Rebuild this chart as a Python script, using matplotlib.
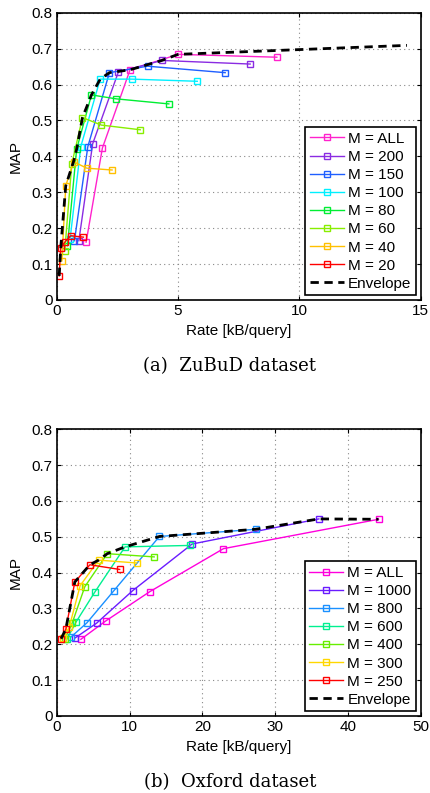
import matplotlib
matplotlib.use('Agg')
import matplotlib.pyplot as plt

# ZuBuD dataset
zubud_labels = ['M = ALL', 'M = 200', 'M = 150', 'M = 100', 'M = 80', 'M = 60', 'M = 40', 'M = 20']
zubud_colors = ['#ff22cc', '#8a2be2', '#1f5fff', '#00f0ff', '#00ee33', '#88ee00', '#ffc000', '#ff0000']
zubud_x = [
    [1.21, 1.88, 3.02, 5.00, 9.07],
    [0.91, 1.48, 2.54, 4.33, 7.97],
    [0.73, 1.28, 2.17, 3.74, 6.94],
    [0.55, 0.99, 1.79, 3.09, 5.79],
    [0.44, 0.82, 1.43, 2.46, 4.62],
    [0.33, 0.62, 1.06, 1.84, 3.44],
    [0.21, 0.37, 0.69, 1.24, 2.28],
    [0.10, 0.16, 0.33, 0.58, 1.10],
]
zubud_y = [
    [0.161, 0.423, 0.641, 0.684, 0.676],
    [0.165, 0.435, 0.635, 0.667, 0.657],
    [0.165, 0.427, 0.633, 0.651, 0.633],
    [0.170, 0.427, 0.615, 0.615, 0.609],
    [0.151, 0.420, 0.571, 0.560, 0.546],
    [0.137, 0.379, 0.508, 0.487, 0.474],
    [0.109, 0.318, 0.385, 0.367, 0.362],
    [0.067, 0.144, 0.161, 0.179, 0.175],
]
zubud_env_x = [0.10, 0.17, 0.37, 0.69, 0.82, 1.06, 1.43, 1.79, 2.17, 3.02, 4.33, 5.00, 14.43]
zubud_env_y = [0.067, 0.150, 0.318, 0.385, 0.420, 0.508, 0.571, 0.615, 0.633, 0.641, 0.667, 0.684, 0.709]

# Oxford dataset
oxford_labels = ['M = ALL', 'M = 1000', 'M = 800', 'M = 600', 'M = 400', 'M = 300', 'M = 250']
oxford_colors = ['#ff00dd', '#6a1bff', '#1a90ff', '#00f090', '#66ee00', '#ffd700', '#ff0000']
oxford_x = [
    [3.31, 6.71, 12.78, 22.9, 44.2],
    [2.53, 5.47, 10.44, 18.6, 36.0],
    [1.93, 4.14, 7.86, 14.1, 27.3],
    [1.38, 2.67, 5.20, 9.38, 18.3],
    [1.10, 2.11, 3.86, 6.94, 13.38],
    [0.92, 1.70, 3.22, 5.75, 10.99],
    [0.60, 1.24, 2.48, 4.55, 8.64],
]
oxford_y = [
    [0.214, 0.265, 0.347, 0.467, 0.549],
    [0.218, 0.259, 0.350, 0.480, 0.550],
    [0.220, 0.260, 0.350, 0.501, 0.521],
    [0.214, 0.263, 0.345, 0.472, 0.476],
    [0.214, 0.259, 0.361, 0.453, 0.444],
    [0.219, 0.247, 0.364, 0.435, 0.427],
    [0.216, 0.242, 0.374, 0.422, 0.409],
]
oxford_env_x = [0.60, 1.24, 2.48, 4.55, 5.75, 6.94, 9.38, 14.1, 27.3, 36.0, 44.2]
oxford_env_y = [0.216, 0.242, 0.374, 0.422, 0.435, 0.453, 0.472, 0.501, 0.521, 0.550, 0.549]

plt.rcParams['font.family'] = ['Liberation Sans', 'DejaVu Sans']
plt.rcParams['font.size'] = 11

fig = plt.figure(figsize=(4.3, 7.93), dpi=100)


def draw_panel(ax, xs, ys, labels, colors, env_x, env_y, xmax, xticks):
    for x, y, lab, c in zip(xs, ys, labels, colors):
        ax.plot(x, y, '-s', color=c, lw=1.0, ms=5, mfc='none', mew=1.0, label=lab)
    ax.plot(env_x, env_y, '--', color='black', lw=2.0, dashes=(3, 2), label='Envelope')
    ax.set_xlim(0, xmax)
    ax.set_ylim(0, 0.8)
    ax.set_xticks(xticks)
    ax.set_yticks([0, 0.1, 0.2, 0.3, 0.4, 0.5, 0.6, 0.7, 0.8])
    ax.set_yticklabels(['0', '0.1', '0.2', '0.3', '0.4', '0.5', '0.6', '0.7', '0.8'])
    ax.grid(True, linestyle=(0, (1, 3)), color='#888888', lw=0.8)
    ax.tick_params(direction='in', top=True, right=True, length=3, pad=3, labelsize=11)
    for s in ax.spines.values():
        s.set_linewidth(1.2)
    ax.set_xlabel('Rate [kB/query]', fontsize=11, labelpad=4)
    ax.set_ylabel('MAP', fontsize=11, labelpad=6)
    leg = ax.legend(loc='lower right', fontsize=11, handlelength=2.2, labelspacing=0.27,
                    borderaxespad=0.3, borderpad=0.3, handletextpad=0.3,
                    fancybox=False, framealpha=1, edgecolor='black', markerscale=0.8)
    leg.get_frame().set_linewidth(1.2)


ax1 = fig.add_axes([0.132, 0.6217, 0.8465, 0.3623])
draw_panel(ax1, zubud_x, zubud_y, zubud_labels, zubud_colors, zubud_env_x, zubud_env_y,
           15, [0, 5, 10, 15])
fig.text(230 / 430, 1 - 366 / 793, '(a)  ZuBuD dataset', ha='center', va='center',
         fontsize=13, family='DejaVu Serif')

ax2 = fig.add_axes([0.132, 0.0971, 0.8465, 0.3615])
draw_panel(ax2, oxford_x, oxford_y, oxford_labels, oxford_colors, oxford_env_x, oxford_env_y,
           50, [0, 10, 20, 30, 40, 50])
fig.text(230 / 430, 1 - 782 / 793, '(b)  Oxford dataset', ha='center', va='center',
         fontsize=13, family='DejaVu Serif')

fig.savefig('out.png', dpi=100)
